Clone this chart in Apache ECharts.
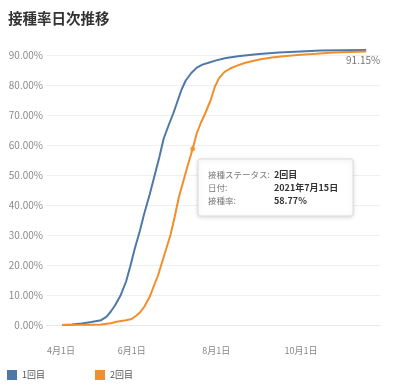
<!DOCTYPE html>
<html><head><meta charset="utf-8">
<script src="https://cdn.jsdelivr.net/npm/echarts@6/dist/echarts.min.js"></script>
<style>html,body{margin:0;padding:0;background:#fff}#c{width:400px;height:388px}</style>
</head><body><div id="c"></div>
<script>
const chartTitle = '接種率日次推移';
const seriesNames = ['1回目', '2回目'];
const dose1Dates = ['2021-04-12','2021-04-19','2021-04-26','2021-05-03','2021-05-10','2021-05-14','2021-05-17','2021-05-20','2021-05-24','2021-05-28','2021-05-31','2021-06-03','2021-06-07','2021-06-10','2021-06-14','2021-06-17','2021-06-21','2021-06-24','2021-06-28','2021-07-01','2021-07-04','2021-07-07','2021-07-10','2021-07-14','2021-07-18','2021-07-22','2021-07-27','2021-08-01','2021-08-08','2021-08-18','2021-09-01','2021-09-15','2021-10-01','2021-10-15','2021-11-01','2021-11-17'];
const dose1Values = [0.0,0.2,0.5,1.0,1.6,2.8,4.5,6.5,9.8,14.5,19.5,25.0,31.5,37.0,43.5,48.8,56.0,62.0,67.0,70.5,74.5,78.5,81.5,84.0,85.8,86.8,87.5,88.2,89.0,89.7,90.3,90.8,91.2,91.5,91.6,91.7];
const dose2Dates = ['2021-04-12','2021-04-26','2021-05-03','2021-05-10','2021-05-17','2021-05-21','2021-05-28','2021-06-01','2021-06-04','2021-06-07','2021-06-10','2021-06-14','2021-06-17','2021-06-20','2021-06-23','2021-06-26','2021-06-29','2021-07-02','2021-07-05','2021-07-08','2021-07-11','2021-07-15','2021-07-18','2021-07-21','2021-07-24','2021-07-28','2021-07-31','2021-08-03','2021-08-07','2021-08-11','2021-08-15','2021-08-22','2021-09-01','2021-09-10','2021-09-18','2021-10-01','2021-10-12','2021-10-25','2021-11-05','2021-11-17'];
const dose2Values = [0.0,0.05,0.1,0.2,0.6,1.1,1.6,2.0,3.0,4.2,6.0,9.4,13.0,16.5,21.0,25.5,30.0,36.0,42.5,47.5,52.5,58.77,64.0,67.5,70.5,75.0,79.4,82.3,84.4,85.5,86.3,87.4,88.5,89.2,89.6,90.1,90.4,90.8,91.0,91.15];
const xTickDates = ['2021-04-01','2021-06-01','2021-08-01','2021-10-01'];
const xTickLabels = ['4月1日','6月1日','8月1日','10月1日'];
const xRange = ['2021-04-01','2021-11-27'];
const yTicks = [0,10,20,30,40,50,60,70,80,90];
const tipSeries = '2回目';
const tipDate = '2021-07-15';
const tipDateText = '2021年7月15日';
const tipValue = 58.77;
const tipLabels = ['接種ステータス:', '日付:', '接種率:'];

const colors = ['#4E79A7', '#F28E2B'];
const FONT = '"Noto Sans CJK JP", "Noto Sans", sans-serif';
// day offset from the axis origin (April 1)
function day(s){const p=s.split('-').map(Number);const o=xRange[0].split('-').map(Number);
  return Math.round((Date.UTC(p[0],p[1]-1,p[2])-Date.UTC(o[0],o[1]-1,o[2]))/86400000);}
function pairs(d,v){return d.map((x,i)=>[day(x),v[i]]);}
const tickDays = xTickDates.map(day);
const lastIdx = dose2Values.length-1;

const chart = echarts.init(document.getElementById('c'), null, {renderer:'canvas'});
chart.setOption({
  animation:false,
  textStyle:{fontFamily:FONT},
  title:{text:chartTitle,left:8,top:11,padding:0,textStyle:{fontSize:14.5,fontWeight:'bold',color:'#333',fontFamily:FONT}},
  legend:{data:seriesNames,left:7,top:370,padding:0,icon:'rect',itemWidth:10,itemHeight:10,itemGap:50,
    textStyle:{fontSize:9,color:'#555',fontFamily:FONT}},
  grid:{left:47,right:20,top:55,bottom:63,containLabel:false},
  xAxis:{type:'value',min:0,max:day(xRange[1]),interval:tickDays[1]-tickDays[0],
    axisLine:{show:true,lineStyle:{color:'#e8e8e8'}},axisTick:{show:false},splitLine:{show:false},
    axisLabel:{alignMinLabel:'left',showMaxLabel:false,color:'#888',fontSize:9,margin:21,
      formatter:function(v){const i=tickDays.indexOf(Math.round(v));return i>=0?xTickLabels[i]:'';}}},
  yAxis:{type:'value',min:yTicks[0],max:yTicks[yTicks.length-1],interval:10,
    axisLine:{show:false},axisTick:{show:false},
    splitLine:{lineStyle:{color:'#efefef'}},
    axisLabel:{color:'#8a8a8a',fontSize:10,margin:4,formatter:v=>v.toFixed(2)+'%'}},
  series:[
    {name:seriesNames[0],type:'line',data:pairs(dose1Dates,dose1Values),showSymbol:false,clip:false,
      lineStyle:{width:2,color:colors[0]},itemStyle:{color:colors[0]}},
    {name:seriesNames[1],type:'line',data:pairs(dose2Dates,dose2Values),showSymbol:false,clip:false,
      lineStyle:{width:2,color:colors[1]},itemStyle:{color:colors[1]}},
    {name:'marks',type:'scatter',z:5,clip:false,data:[
      {value:[day(tipDate),tipValue],symbolSize:5,itemStyle:{color:colors[1]}},
      {value:[day(dose2Dates[lastIdx]),dose2Values[lastIdx]],symbolSize:0,
        label:{show:true,position:'bottom',distance:4,offset:[-3,0],color:'#555',fontSize:10,
          formatter:dose2Values[lastIdx].toFixed(2)+'%'}}
    ]}
  ]
});
const p = chart.convertToPixel({gridIndex:0},[day(tipDate),tipValue]);
const bx = Math.round(p[0]+5), by = Math.round(p[1]+10);
const vals = [tipSeries, tipDateText, tipValue.toFixed(2)+'%'];
const kids = [{type:'rect',shape:{x:0,y:0,width:155,height:57,r:2},
  style:{fill:'#fff',stroke:'#dcdcdc',lineWidth:1,shadowBlur:4,shadowColor:'rgba(0,0,0,0.15)',shadowOffsetY:1}}];
tipLabels.forEach((t,i)=>{
  kids.push({type:'text',x:10,y:16+13*i,style:{text:t,fill:'#777',fontSize:8.5,fontFamily:FONT,verticalAlign:'middle'}});
  kids.push({type:'text',x:76,y:16+13*i,style:{text:vals[i],fill:'#333',fontSize:9,fontWeight:'bold',fontFamily:FONT,verticalAlign:'middle'}});
});
chart.setOption({graphic:[{type:'group',x:bx,y:by,z:100,children:kids}]});
</script></body></html>
